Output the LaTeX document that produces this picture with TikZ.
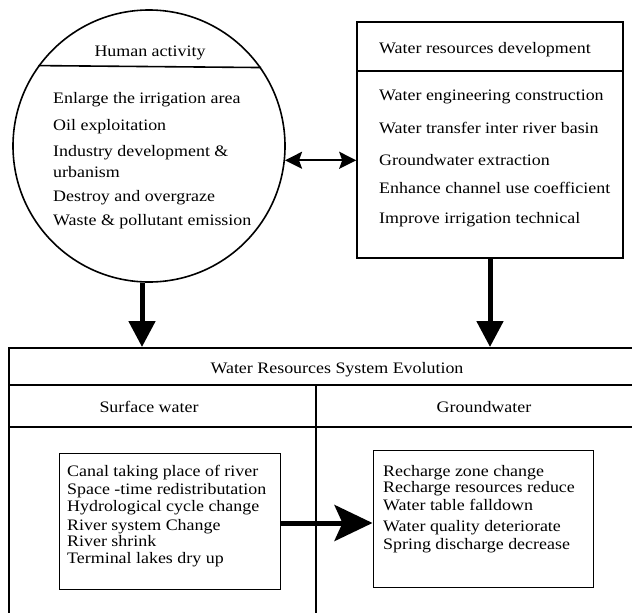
\documentclass[tikz,border=0pt]{standalone}
\usepackage{fontspec}
\setmainfont{Liberation Serif}[FakeStretch=1.12]
\usepackage{tikz}
\usetikzlibrary{arrows.meta}
\usetikzlibrary{positioning, calc}

\begin{document}
\begin{tikzpicture}[x=1pt, y=-1pt,
    every node/.style={font=\fontsize{16}{18}\selectfont},
    item/.style={anchor=west, inner sep=0pt, text height=10pt, text depth=3pt},
    frame/.style={draw, line width=1.6pt, inner sep=0pt},
    inbox/.style={draw, line width=1pt, inner sep=0pt},
    downarrow/.style={line width=5pt, -{Triangle[length=26pt, width=26pt]}},
    sidearrow/.style={line width=5pt, -{Stealth[length=38pt, width=36pt, inset=8pt]}},
    dblarrow/.style={line width=2.2pt, {Stealth[length=17pt, width=17pt, inset=3pt]}-{Stealth[length=17pt, width=17pt, inset=3pt]}}]
                \useasboundingbox (0,0) rectangle (632,613);
                \clip (0,0) rectangle (632,613);
                % Human activity circle
                \node[frame, circle, minimum size=272pt] (human) at (149,146) {};
                \draw[line width=1.6pt] (human.144.5) -- (human.35.5);
                \node (humantitle) at (150,53) {Human activity};
                \foreach \y/\t in {100/Enlarge the irrigation area, 127/Oil exploitation,
                                   153/Industry development \&, 174/urbanism,
                                   198/Destroy and overgraze, 222/Waste \& pollutant emission} {
                    \node[item] at (53,\y) {\t};
                }
                % Water resources development box
                \node[frame, minimum width=266pt, minimum height=236pt] (dev) at (490,140) {};
                \draw[line width=1.6pt] ([yshift=-50pt]dev.north west) -- ([yshift=-50pt]dev.north east);
                \node (devtitle) at (485,50) {Water resources development};
                \foreach \y/\t in {97/Water engineering construction, 130/Water transfer inter river basin,
                                   162/Groundwater extraction, 190/Enhance channel use coefficient,
                                   220/Improve irrigation technical} {
                    \node[item] at (379,\y) {\t};
                }
                \draw[dblarrow] (human.-6.3) -- (human.-6.3 -| dev.west);
                % Water resources system evolution
                \node[frame, anchor=north west, minimum width=660pt, minimum height=300pt] (evo) at (8,347) {};
                \draw[line width=1.6pt] (8,385) -- (670,385);
                \draw[line width=1.6pt] (8,427) -- (670,427);
                \draw[line width=1.6pt] (316,385) -- (316,650);
                \node (evotitle) at (337,370) {Water Resources System Evolution};
                \node (surftitle) at (149,407) {Surface water};
                \node (groundtitle) at (484,407) {Groundwater};
                \draw[downarrow] ([xshift=-7pt]human.south) -- ([xshift=-7pt]human.south |- evo.north);
                \draw[downarrow] (dev.south) -- (dev.south |- evo.north);
                % Surface water effects
                \node[inbox, minimum width=221pt, minimum height=136pt] (surf) at (169.5,521) {};
                \foreach \y/\t in {473/Canal taking place of river, 491/Space -time redistributation,
                                   508/Hydrological cycle change, 527/River system Change,
                                   543/River shrink, 560/Terminal lakes dry up} {
                    \node[item] at (67,\y) {\t};
                }
                % Groundwater effects
                \node[inbox, minimum width=220pt, minimum height=137pt] (ground) at (483,519) {};
                \foreach \y/\t in {473/Recharge zone change, 489/Recharge resources reduce,
                                   507/Water table falldown, 528/Water quality deteriorate,
                                   546/Spring discharge decrease} {
                    \node[item] at (383,\y) {\t};
                }
                \draw[sidearrow] ([yshift=-2pt]surf.east) -- ([yshift=-2pt]surf.east -| ground.west);
\end{tikzpicture}
\end{document}
